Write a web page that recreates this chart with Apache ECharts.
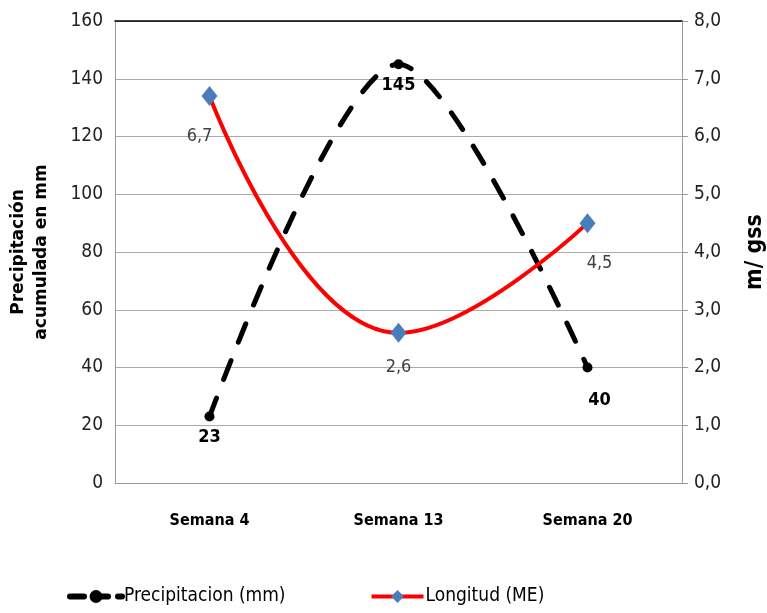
<!DOCTYPE html>
<html>
    <head>
        <meta charset="utf-8">
        <script src="https://cdn.jsdelivr.net/npm/echarts@6/dist/echarts.min.js"></script>
    </head>
    <body style="margin:0">
        <style>
            html, body, #main {
                width: 767px;
                height: 613px;
                background: #fff;
            }
        </style>
        <div id="main"></div>
        <script>
            var semanas = ['Semana 4', 'Semana 13', 'Semana 20'];
            var precipitacion = [23, 145, 40];
            var longitud = [6.7, 2.6, 4.5];
            var leftTicks = [0, 160, 20];
            var rightTicks = [0, 8, 1];

            var narrow = '"DejaVu Sans Condensed", "Liberation Sans Narrow", sans-serif';
            var coma = function (v) { return v.toFixed(1).replace('.', ','); };

            // label offsets per point
            var precipOffsets = [[0, 2], [0, 2], [12, 14]];
            var longOffsets = [[-10, 16], [0, 10], [12, 16]];

            var chart = echarts.init(document.getElementById('main'));

            chart.setOption({
                animation: false,
                grid: { left: 115, right: 85, top: 21, bottom: 130, outerBoundsMode: 'none' },
                legend: {
                    left: 62,
                    bottom: 2,
                    itemGap: 84,
                    itemWidth: 52,
                    itemHeight: 16,
                    textStyle: { fontFamily: narrow, fontSize: 19, color: '#000', padding: [0, 0, 0, -3] },
                    data: [{
                        name: 'Precipitacion (mm)',
                        lineStyle: { width: 6, type: [14, 10], cap: 'round' }
                    }, {
                        name: 'Longitud (ME)',
                        lineStyle: { width: 4 }
                    }]
                },
                xAxis: [{
                    type: 'category',
                    data: semanas,
                    axisLine: { lineStyle: { color: '#999' } },
                    axisTick: { show: false },
                    axisLabel: {
                        margin: 30,
                        fontFamily: narrow,
                        fontWeight: 'bold',
                        fontSize: 16,
                        color: '#000'
                    }
                }, {
                    type: 'category',
                    position: 'top',
                    data: semanas,
                    axisLine: { onZero: false, lineStyle: { color: '#000', width: 1.5 } },
                    axisTick: { show: false },
                    axisLabel: { show: false }
                }],
                yAxis: [{
                    type: 'value',
                    min: leftTicks[0],
                    max: leftTicks[1],
                    interval: leftTicks[2],
                    name: 'Precipitación\nacumulada en mm',
                    nameLocation: 'middle',
                    nameRotate: 90,
                    nameGap: 62,
                    nameTextStyle: {
                        fontFamily: '"DejaVu Sans", sans-serif',
                        fontWeight: 'bold',
                        fontSize: 17,
                        lineHeight: 23,
                        color: '#000'
                    },
                    axisLine: { show: true, lineStyle: { color: '#999' } },
                    axisTick: { show: false },
                    axisLabel: { fontFamily: narrow, fontSize: 19, color: '#222', margin: 12 },
                    splitLine: { lineStyle: { color: '#aaa', width: 1.2 } }
                }, {
                    type: 'value',
                    position: 'right',
                    min: rightTicks[0],
                    max: rightTicks[1],
                    interval: rightTicks[2],
                    name: 'm/ gss',
                    nameLocation: 'middle',
                    nameRotate: 90,
                    nameGap: 62,
                    nameTextStyle: {
                        fontFamily: narrow,
                        fontWeight: 'bold',
                        fontSize: 23,
                        color: '#000'
                    },
                    axisLine: { show: true, lineStyle: { color: '#999' } },
                    axisTick: { show: true, length: 6, lineStyle: { color: '#999' } },
                    axisLabel: { fontFamily: narrow, fontSize: 19, color: '#222', margin: 12, formatter: coma },
                    splitLine: { show: false }
                }],
                series: [{
                    name: 'Precipitacion (mm)',
                    type: 'line',
                    yAxisIndex: 0,
                    smooth: 0.3,
                    symbol: 'circle',
                    symbolSize: 10,
                    itemStyle: { color: '#000' },
                    lineStyle: { color: '#000', width: 5, type: [20, 20], cap: 'round' },
                    data: precipitacion.map(function (v, i) {
                        return {
                            value: v,
                            label: { offset: precipOffsets[i] }
                        };
                    }),
                    label: {
                        show: true,
                        position: 'bottom',
                        fontFamily: narrow,
                        fontWeight: 'bold',
                        fontSize: 18,
                        color: '#000'
                    },
                    z: 2
                }, {
                    name: 'Longitud (ME)',
                    type: 'line',
                    yAxisIndex: 1,
                    smooth: 0.45,
                    symbol: 'diamond',
                    symbolSize: [16, 20],
                    itemStyle: { color: '#4A7EBB' },
                    lineStyle: { color: '#ff0000', width: 4 },
                    data: longitud.map(function (v, i) {
                        return {
                            value: v,
                            label: { offset: longOffsets[i] }
                        };
                    }),
                    label: {
                        show: true,
                        position: 'bottom',
                        fontFamily: narrow,
                        fontSize: 18,
                        color: '#404040',
                        formatter: function (p) { return coma(p.value); }
                    },
                    z: 3
                }]
            });
        </script>
    </body>
</html>
